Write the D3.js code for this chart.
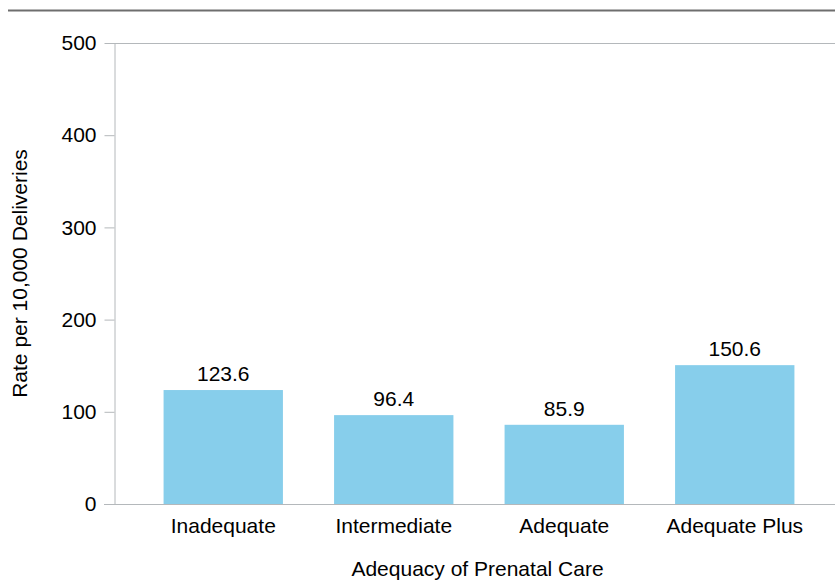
<!doctype html>
<html>
<head>
<style>
    body { margin: 0; background: #fff; }
    text { font-family: "Liberation Sans", Arial, sans-serif; fill: #000; }
    .bar { fill: #87ceeb; }
    .axis path, .axis line { stroke: #b4b8bb; }
</style>
<script src="https://d3js.org/d3.v7.min.js"></script>
</head>
<body>
<svg width="835" height="582"></svg>
<script>
var categories = ["Inadequate", "Intermediate", "Adequate", "Adequate Plus"];
var rates = [123.6, 96.4, 85.9, 150.6];
var yTicks = [0, 100, 200, 300, 400, 500];

var data = categories.map(function(c, i) { return { name: c, rate: rates[i] }; });

var svg = d3.select("svg");
var plotLeft = 114, plotRight = 835, plotTop = 43, plotBottom = 504;
var fs = "21px";

// header rule
svg.append("line")
    .attr("x1", 8).attr("x2", 835)
    .attr("y1", 10.5).attr("y2", 10.5)
    .attr("stroke", "#6e6e6e").attr("stroke-width", 2);

var x = d3.scaleBand().domain(categories).range([138, 820])
    .paddingInner(0.3).paddingOuter(0.15);
var y = d3.scaleLinear().domain([0, 500]).range([plotBottom, plotTop]);

// top frame line
svg.append("line")
    .attr("x1", plotLeft).attr("x2", plotRight)
    .attr("y1", plotTop + 0.5).attr("y2", plotTop + 0.5)
    .attr("stroke", "#b4b8bb");

svg.selectAll(".bar").data(data).enter().append("rect")
    .attr("class", "bar")
    .attr("x", function(d) { return x(d.name); })
    .attr("y", function(d) { return y(d.rate); })
    .attr("width", x.bandwidth())
    .attr("height", function(d) { return plotBottom - y(d.rate); });

svg.selectAll(".val").data(data).enter().append("text")
    .attr("class", "val")
    .attr("x", function(d) { return x(d.name) + x.bandwidth() / 2; })
    .attr("y", function(d) { return y(d.rate) - 9; })
    .attr("text-anchor", "middle")
    .attr("font-size", fs)
    .text(function(d) { return d.rate.toFixed(1); });

var yAxis = svg.append("g").attr("class", "axis")
    .attr("transform", "translate(" + (plotLeft + 0.5) + ",0)")
    .call(d3.axisLeft(y).tickValues(yTicks).tickSize(10).tickPadding(8).tickSizeOuter(0));
yAxis.selectAll("text").attr("font-size", fs).style("font-family", "Liberation Sans, Arial, sans-serif").attr("fill", "#000");

var xAxis = svg.append("g").attr("class", "axis")
    .attr("transform", "translate(0," + (plotBottom + 0.5) + ")")
    .call(d3.axisBottom(x).tickSize(0).tickPadding(14).tickSizeOuter(0));
xAxis.select(".domain").attr("d", "M" + (plotLeft - 10) + ",0H" + plotRight);
xAxis.selectAll("text").attr("font-size", fs).style("font-family", "Liberation Sans, Arial, sans-serif").attr("fill", "#000");

svg.append("text")
    .attr("x", (plotLeft + plotRight) / 2 + 3)
    .attr("y", 576)
    .attr("text-anchor", "middle")
    .attr("font-size", fs)
    .text("Adequacy of Prenatal Care");

svg.append("text")
    .attr("transform", "translate(27," + ((plotTop + plotBottom) / 2) + ") rotate(-90)")
    .attr("text-anchor", "middle")
    .attr("font-size", fs)
    .text("Rate per 10,000 Deliveries");
</script>
</body>
</html>
